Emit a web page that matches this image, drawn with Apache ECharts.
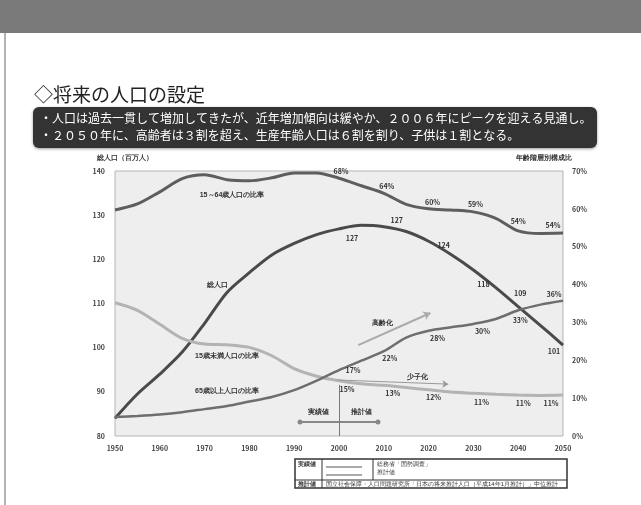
<!DOCTYPE html>
<html>
<head>
<meta charset="utf-8">
<script src="https://cdn.jsdelivr.net/npm/echarts@6/dist/echarts.min.js"></script>
<style>
  html, body { margin: 0; padding: 0; background: #fff; }
  #chart { width: 641px; height: 505px; }
</style>
</head>
<body>
<div id="chart"></div>
<script>
// 年次（5年おき）
var years = [1950, 1955, 1960, 1965, 1970, 1975, 1980, 1985, 1990, 1995, 2000,
             2005, 2010, 2015, 2020, 2025, 2030, 2035, 2040, 2045, 2050];
// 総人口（百万人）
var totalPop = [84, 89.5, 94, 99, 105.5, 112.5, 117, 121, 123.6, 125.6, 126.9,
                127.7, 127.4, 126.3, 124.1, 121.1, 117.6, 113.6, 109.3, 105, 100.6];
// 15～64歳人口の比率（％）
var workShare = [59.7, 61.3, 64.5, 68.0, 69.0, 67.7, 67.4, 68.2, 69.5, 69.5, 68.1,
                 66.1, 64.1, 61.2, 60.0, 59.7, 59.2, 57.5, 54.2, 53.5, 53.6];
// 15歳未満人口の比率（％）
var childShare = [35.2, 33.2, 29.5, 25.8, 24.3, 24.1, 23.4, 21.2, 17.8, 15.8, 14.6,
                  13.8, 13.4, 12.8, 12.2, 11.6, 11.3, 11.0, 10.8, 10.7, 10.8];
// 65歳以上人口の比率（％）
var elderShare = [5.0, 5.3, 5.7, 6.3, 7.1, 7.9, 9.1, 10.3, 12.1, 14.6, 17.4,
                  19.9, 22.4, 26.0, 27.8, 28.7, 29.6, 30.9, 33.2, 34.7, 35.7];

// 数値ラベルを付ける年
var labelYears = [2000, 2010, 2020, 2030, 2040, 2050];
var popLabelOff   = [[13, 9], [13, -6], [15, 4], [10, 14], [2, -13], [-9, 6]];
var workLabelOff  = [[2, -7], [3, -7], [4, -7], [2, -8], [0, -9], [-10, -8]];
var childLabelOff = [[8, 9], [9, 8], [5, 8], [8, 9], [5, 8], [-12, 8]];
var elderLabelOff = [[14, 0], [6, 7], [9, 8], [9, 7], [2, 10], [-9, -7]];

function buildData(values, offsets, unit) {
  return years.map(function (y, i) {
    var item = { value: [y, values[i]] };
    var k = labelYears.indexOf(y);
    if (k >= 0) {
      item.label = {
        show: true,
        position: 'inside',
        offset: offsets[k],
        formatter: Math.round(values[i]) + unit
      };
    }
    return item;
  });
}

var labelFont = { fontSize: 7, fontWeight: 'bold', color: '#333', fontFamily: 'Noto Sans CJK JP' };

var chart = echarts.init(document.getElementById('chart'));

var option = {
  animation: false,
  backgroundColor: '#ffffff',
  textStyle: { fontFamily: 'Noto Sans CJK JP' },
  grid: {
    left: 115, right: 78, top: 171, bottom: 69,
    show: true, backgroundColor: '#eeeeee', borderColor: '#b5b5b5', borderWidth: 1
  },
  xAxis: {
    type: 'value', min: 1950, max: 2050, interval: 10,
    axisLine: { show: false }, axisTick: { show: false }, splitLine: { show: false },
    axisLabel: { fontSize: 7, fontWeight: 'bold', color: '#444', margin: 9,
      formatter: function (v) { return String(v); } }
  },
  yAxis: [
    {
      type: 'value', min: 80, max: 140, interval: 10,
      axisLine: { show: false }, axisTick: { show: false }, splitLine: { show: false },
      axisLabel: { fontSize: 7, fontWeight: 'bold', color: '#444', margin: 10 }
    },
    {
      type: 'value', min: 0, max: 70, interval: 10,
      axisLine: { show: false }, axisTick: { show: false }, splitLine: { show: false },
      axisLabel: { fontSize: 7, fontWeight: 'bold', color: '#444', margin: 9, formatter: '{value}%' }
    }
  ],
  series: [
    {
      name: '総人口', type: 'line', smooth: 0.3, yAxisIndex: 0,
      symbol: 'circle', symbolSize: 0, showSymbol: true,
      lineStyle: { color: '#4a4a4a', width: 3 },
      itemStyle: { color: '#4a4a4a' },
      label: labelFont,
      data: buildData(totalPop, popLabelOff, '')
    },
    {
      name: '15～64歳人口の比率', type: 'line', smooth: 0.3, yAxisIndex: 1,
      symbol: 'circle', symbolSize: 0, showSymbol: true,
      lineStyle: { color: '#5e5e5e', width: 3 },
      itemStyle: { color: '#5e5e5e' },
      label: labelFont,
      data: buildData(workShare, workLabelOff, '%')
    },
    {
      name: '15歳未満人口の比率', type: 'line', smooth: 0.3, yAxisIndex: 1,
      symbol: 'circle', symbolSize: 0, showSymbol: true,
      lineStyle: { color: '#b3b3b3', width: 3 },
      itemStyle: { color: '#b3b3b3' },
      label: labelFont,
      data: buildData(childShare, childLabelOff, '%')
    },
    {
      name: '65歳以上人口の比率', type: 'line', smooth: 0.3, yAxisIndex: 1,
      symbol: 'circle', symbolSize: 0, showSymbol: true,
      lineStyle: { color: '#6e6e6e', width: 2.5 },
      itemStyle: { color: '#6e6e6e' },
      label: labelFont,
      data: buildData(elderShare, elderLabelOff, '%'),
      markLine: {
        silent: true,
        label: { show: false },
        data: [
          // 高齢化
          [{ coord: [2004.3, 24.0], symbol: 'none', lineStyle: { color: '#aaaaaa', width: 2, type: 'solid' } },
           { coord: [2020.4, 32.5], symbol: 'arrow', symbolSize: 7 }],
          // 少子化
          [{ coord: [1999.6, 14.8], symbol: 'none', lineStyle: { color: '#999999', width: 1, type: 'solid' } },
           { coord: [2024.4, 13.7], symbol: 'arrow', symbolSize: 6 }],
          // 実績値・推計値
          [{ coord: [1991.3, 3.7], symbol: 'circle', symbolSize: 5, lineStyle: { color: '#888888', width: 2, type: 'solid' } },
           { coord: [2008.7, 3.7], symbol: 'circle', symbolSize: 5 }],
          // 2000年の区切り
          [{ coord: [2000, 13.5], symbol: 'none', lineStyle: { color: '#777777', width: 1, type: 'solid' } },
           { coord: [2000, 0], symbol: 'none' }]
        ]
      }
    }
  ],
  graphic: [
    { type: 'rect', shape: { x: 0, y: 0, width: 641, height: 33 }, style: { fill: '#7a7a7a' } },
    { type: 'line', shape: { x1: 5, y1: 33, x2: 5, y2: 505 }, style: { stroke: '#9a9a9a', lineWidth: 1.5 } },
    { type: 'text', style: { x: 34, y: 95, text: '◇将来の人口の設定', fontSize: 19, fill: '#222',
        textVerticalAlign: 'middle', fontFamily: 'Noto Sans CJK JP' } },
    { type: 'rect', shape: { x: 33, y: 107, width: 564, height: 41, r: 6 },
      style: { fill: '#333333', shadowBlur: 3, shadowColor: 'rgba(0,0,0,0.4)', shadowOffsetY: 1 } },
    { type: 'text', style: { x: 40, y: 118, text: '・人口は過去一貫して増加してきたが、近年増加傾向は緩やか、２００６年にピークを迎える見通し。',
        fontSize: 12, fill: '#fff', textVerticalAlign: 'middle', fontFamily: 'Noto Sans CJK JP' } },
    { type: 'text', style: { x: 40, y: 135, text: '・２０５０年に、高齢者は３割を超え、生産年齢人口は６割を割り、子供は１割となる。',
        fontSize: 12, fill: '#fff', textVerticalAlign: 'middle', fontFamily: 'Noto Sans CJK JP' } },
    { type: 'text', style: { x: 97, y: 158, text: '総人口（百万人）', fontSize: 7, fontWeight: 'bold', fill: '#333', textVerticalAlign: 'middle' } },
    { type: 'text', style: { x: 572, y: 158, text: '年齢階層別構成比', fontSize: 7, fontWeight: 'bold', fill: '#333',
        textAlign: 'right', textVerticalAlign: 'middle' } },
    { type: 'text', style: { x: 232, y: 195, text: '15～64歳人口の比率', fontSize: 7, fontWeight: 'bold', fill: '#333', textAlign: 'center', textVerticalAlign: 'middle' } },
    { type: 'text', style: { x: 217, y: 285, text: '総人口', fontSize: 7, fontWeight: 'bold', fill: '#333', textAlign: 'center', textVerticalAlign: 'middle' } },
    { type: 'text', style: { x: 227, y: 356, text: '15歳未満人口の比率', fontSize: 7, fontWeight: 'bold', fill: '#333', textAlign: 'center', textVerticalAlign: 'middle' } },
    { type: 'text', style: { x: 227, y: 391, text: '65歳以上人口の比率', fontSize: 7, fontWeight: 'bold', fill: '#333', textAlign: 'center', textVerticalAlign: 'middle' } },
    { type: 'text', style: { x: 382, y: 323, text: '高齢化', fontSize: 7, fontWeight: 'bold', fill: '#333', textAlign: 'center', textVerticalAlign: 'middle' } },
    { type: 'text', style: { x: 417, y: 377, text: '少子化', fontSize: 7, fontWeight: 'bold', fill: '#333', textAlign: 'center', textVerticalAlign: 'middle' } },
    { type: 'text', style: { x: 318, y: 412, text: '実績値', fontSize: 7, fontWeight: 'bold', fill: '#333', textAlign: 'center', textVerticalAlign: 'middle' } },
    { type: 'text', style: { x: 361, y: 412, text: '推計値', fontSize: 7, fontWeight: 'bold', fill: '#333', textAlign: 'center', textVerticalAlign: 'middle' } },
    // 出典の表
    { type: 'rect', shape: { x: 295, y: 459, width: 272, height: 29 }, style: { fill: '#fff', stroke: '#333', lineWidth: 1.5 } },
    { type: 'line', shape: { x1: 295, y1: 480, x2: 567, y2: 480 }, style: { stroke: '#333', lineWidth: 1 } },
    { type: 'line', shape: { x1: 322, y1: 459, x2: 322, y2: 488 }, style: { stroke: '#333', lineWidth: 1 } },
    { type: 'line', shape: { x1: 373, y1: 459, x2: 373, y2: 480 }, style: { stroke: '#333', lineWidth: 1 } },
    { type: 'line', shape: { x1: 326, y1: 467, x2: 362, y2: 467 }, style: { stroke: '#555', lineWidth: 1 } },
    { type: 'line', shape: { x1: 326, y1: 475, x2: 362, y2: 475 }, style: { stroke: '#555', lineWidth: 1 } },
    { type: 'text', style: { x: 298, y: 464, text: '実績値', fontSize: 6, fontWeight: 'bold', fill: '#333', textVerticalAlign: 'middle' } },
    { type: 'text', style: { x: 377, y: 464, text: '総務省「国勢調査」', fontSize: 6, fill: '#333', textVerticalAlign: 'middle' } },
    { type: 'text', style: { x: 377, y: 472, text: '推計値', fontSize: 6, fill: '#333', textVerticalAlign: 'middle' } },
    { type: 'text', style: { x: 298, y: 484, text: '推計値', fontSize: 6, fontWeight: 'bold', fill: '#333', textVerticalAlign: 'middle' } },
    { type: 'text', style: { x: 326, y: 484, text: '国立社会保障・人口問題研究所「日本の将来推計人口（平成14年1月推計）」中位推計',
        fontSize: 6, fill: '#333', textVerticalAlign: 'middle' } }
  ]
};

chart.setOption(option, true);
</script>
</body>
</html>
